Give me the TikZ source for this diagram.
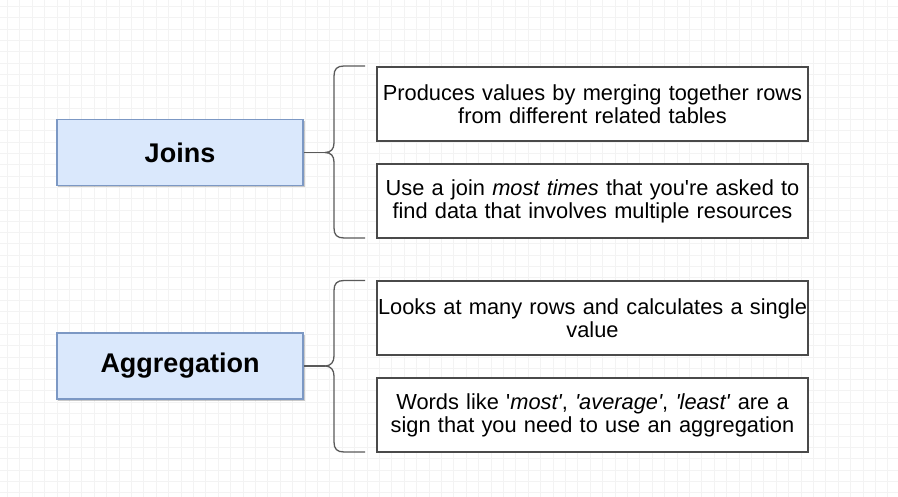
\documentclass[tikz,border=0pt]{standalone}
\usepackage{fontspec}
\setmainfont{Liberation Sans}
\usetikzlibrary{shadows}
\definecolor{topicfill}{HTML}{DAE8FC}
\definecolor{topicborder}{HTML}{7C98C4}
\definecolor{descborder}{HTML}{4A4A4A}
\definecolor{bracecolor}{HTML}{5A5A5A}
\definecolor{gridc}{HTML}{F3F3F3}
\newcommand\sq{\textquotesingle}
\begin{document}
\begin{tikzpicture}[x=1bp,y=-1bp,
  topic/.style={draw=topicborder, fill=topicfill, line width=1.2bp,
    minimum width=246bp, minimum height=66bp, inner sep=0pt,
    font=\fontsize{27bp}{30bp}\selectfont\bfseries,
    drop shadow={shadow xshift=1.5bp, shadow yshift=-2bp, opacity=0.35, fill=black!60}},
  desc/.style={draw=descborder, line width=1.3bp, fill=white,
    minimum width=431bp, minimum height=74bp, inner sep=0pt,
    align=center, text width=431bp,
    font=\fontsize{21.8bp}{23bp}\selectfont},
  bracestyle/.style={draw=bracecolor, line width=1.3bp, line join=round},
  gridline/.style={draw=gridc, line width=0.8bp}
]
\useasboundingbox (0,0) rectangle (898,497);
\fill[white] (0,0) rectangle (898,497);
% background grid
\foreach \k in {0,...,72} {\draw[gridline] (7.3+12.4*\k,0) -- (7.3+12.4*\k,497);}
\foreach \k in {0,...,43} {\draw[gridline] (0,6.6+11.3*\k) -- (898,6.6+11.3*\k);}

% topics
\node[topic] (joins) at (180,152.5) {Joins};
\node[topic] (agg) at (180,366) {Aggregation};

% descriptions
\node[desc] (b1) at (592.5,104) {Produces values by merging together rows\\from different related tables};
\node[desc] (b2) at (592.5,201) {Use a join \textit{most times} that you\sq re asked to\\find data that involves multiple resources};
\node[desc] (b3) at (592.5,318) {Looks at many rows and calculates a single\\value};
\node[desc] (b4) at (592.5,415) {Words like \sq\textit{most\sq}, \textit{\sq average\sq}, \textit{\sq least\sq} are a\\sign that you need to use an aggregation};

% brace tips
\coordinate (tip1) at (325,152.5);
\coordinate (tip2) at (325,366);

% braces
\draw[bracestyle] (365,66) -- (344,66) .. controls (337,66) and (334,69) .. (334,76)
  -- (334,143) .. controls (334,149) and (331,152.5) .. (tip1)
  .. controls (331,152.5) and (334,156) .. (334,162)
  -- (334,228) .. controls (334,235) and (337,238) .. (344,238) -- (365,238);
\draw[bracestyle] (365,280.5) -- (344,280.5) .. controls (337,280.5) and (334,283.5) .. (334,290.5)
  -- (334,356) .. controls (334,362) and (331,366) .. (tip2)
  .. controls (331,366) and (334,370) .. (334,376)
  -- (334,442) .. controls (334,449) and (337,452) .. (344,452) -- (365,452);

% connectors
\draw[bracestyle] (joins.east) -- (tip1);
\draw[bracestyle] (agg.east) -- (tip2);
\end{tikzpicture}
\end{document}
